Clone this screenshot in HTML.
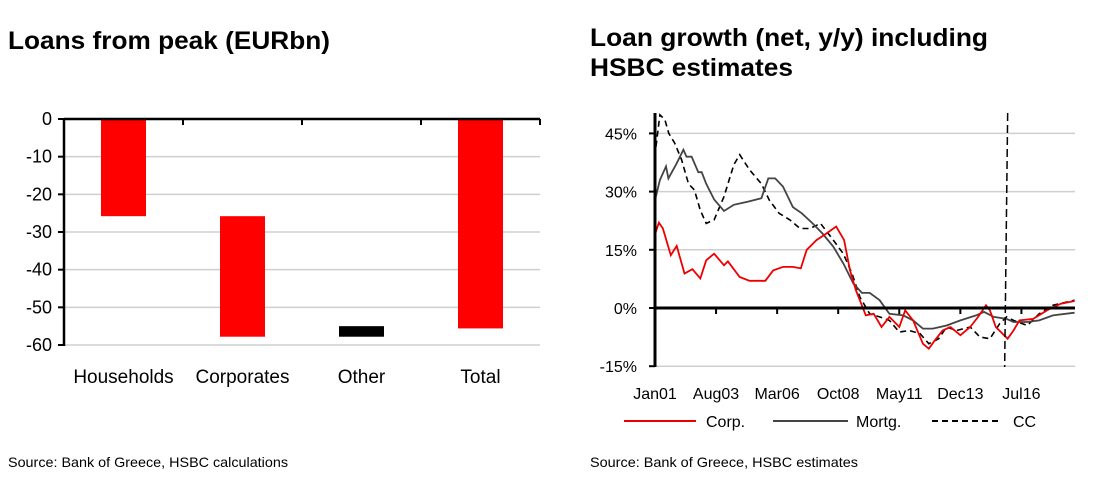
<!DOCTYPE html>
<html><head><meta charset="utf-8"><style>
body{margin:0;background:#fff;font-family:"Liberation Sans",Arial,sans-serif;}
svg text{font-family:"Liberation Sans",Arial,sans-serif;}
</style></head><body>
<svg id="s" width="1102" height="496" xmlns="http://www.w3.org/2000/svg">
<text x="8" y="49" font-size="25" font-weight="bold" textLength="322" lengthAdjust="spacingAndGlyphs">Loans from peak (EURbn)</text>
<text x="590" y="46" font-size="25" font-weight="bold" textLength="398" lengthAdjust="spacingAndGlyphs">Loan growth (net, y/y) including</text>
<text x="590" y="76" font-size="25" font-weight="bold" textLength="203" lengthAdjust="spacingAndGlyphs">HSBC estimates</text>
<text x="8" y="467" font-size="14" textLength="280" lengthAdjust="spacingAndGlyphs">Source: Bank of Greece, HSBC calculations</text>
<text x="590" y="467" font-size="14" textLength="268" lengthAdjust="spacingAndGlyphs">Source: Bank of Greece, HSBC estimates</text>
<g id="left"></g><g id="right"></g>
</svg>
<script>
const barCats=["Households","Corporates","Other","Total"];
const barTop=[0,-25.8,-55,0];
const barBottom=[-25.8,-57.8,-57.8,-55.6];
const barColors=["#ff0000","#ff0000","#000000","#ff0000"];
const leftTicks=[0,-10,-20,-30,-40,-50,-60];

const yTicksR=[45,30,15,0,-15];
const xLabels=["Jan01","Aug03","Mar06","Oct08","May11","Dec13","Jul16"];
const xLabelMonths=[0,31,62,93,124,155,186];
const forecastMonth=178;
const corpM=[0,2,4,8,11,15,19,23,26,30,35,37,43,48,56,60,65,70,74,77,82,87,92,96,99,102,107,111,115,119,124,127,131,136,139,142,146,150,155,160,164,168,170,173,179,182,185,192,199,206,213];
const corpV=[19,22,20.5,13.6,16,8.9,10,7.6,12.3,14,11,12,8,7,7,9.7,10.6,10.6,10.2,15,17.5,19.2,21,17.5,9.7,4.6,-1.9,-1.5,-4.9,-2.3,-4.9,-0.6,-3.2,-9.2,-10.5,-8.4,-5.8,-4.9,-7,-4.9,-2.3,0.7,-0.6,-4.9,-7.9,-5.8,-3.2,-2.8,-0.6,1.1,1.8];
const mortM=[0,2.5,5.6,6.8,11,14.4,16,18.6,22,23.7,26,30,35,40,47,54,57.5,61,65,70,74.5,80,85,90.5,95.6,100.7,105,109,114,119,126,131,136,141,148,155,163,167,172,178.5,182,189,195,202,213];
const mortV=[27.8,33,36.5,33.4,37.3,40.8,39,39,35,35,32,28,25,26.6,27.4,28.3,33.4,33.4,31.3,26,24.4,21.8,19.2,15.8,11.5,6.3,3.9,3.9,2,-1.5,-1.9,-3.2,-5.3,-5.3,-4.5,-3.2,-1.9,-1,-2.3,-2.8,-3.6,-3.6,-3.2,-1.9,-1.2];
const ccM=[0.5,2.5,5,7,10,13.5,17,20,23,26,30,35,40,43,48,54,58,63,68.5,73.6,78.7,84,90.5,95.6,100,104,109,114,119,124,129,134.5,139,144,148,153,160,165,170,175,178.5,182,189,195,202,213];
const ccV=[41.6,49.8,48.5,45,42.5,38.2,32,30.4,25.2,21.8,22.7,28.7,36.9,39.5,35.6,32,27.8,24.4,22.7,20.5,20.5,21.8,17.5,14,8.9,2.8,-1.5,-2.3,-3.2,-6.2,-5.8,-6.6,-9.2,-7.9,-4.9,-5.8,-4.9,-7.5,-7.9,-4,-2.3,-3.2,-4.5,-1.5,0.7,2];

const NS="http://www.w3.org/2000/svg";
function mk(p,t,a){const e=document.createElementNS(NS,t);for(const k in a)e.setAttribute(k,a[k]);p.appendChild(e);return e;}
// Left chart
const L=document.getElementById('left');
const lx0=64,lx1=540;
const ly=v=>119+(-v)*226/60;
const bandW=(lx1-lx0)/barCats.length;
leftTicks.forEach(t=>{
  if(t!==0){const g=mk(L,'line',{x1:lx0,x2:lx1,y1:ly(t),y2:ly(t),stroke:'#cfcfcf','stroke-width':1.5});
  
  }
  const tk=mk(L,'line',{x1:lx0-6,x2:lx0,y1:ly(t),y2:ly(t),stroke:'#000','stroke-width':2});
  
  
  const tx=mk(L,'text',{x:52,y:ly(t)+6,'font-size':18,'text-anchor':'end'});tx.textContent=t;
  
  
});
barCats.forEach((c,i)=>{
  const cx=lx0+bandW*(i+0.5);
  const r=mk(L,'rect',{x:cx-22.5,y:ly(barTop[i]),width:45,height:ly(barBottom[i])-ly(barTop[i]),fill:barColors[i]});
  
  
  const t=mk(L,'text',{x:cx,y:383,'font-size':19,'text-anchor':'middle'});t.textContent=c;
  
  
  const tk=mk(L,'line',{x1:lx0+bandW*(i+1),x2:lx0+bandW*(i+1),y1:119,y2:125,stroke:'#000','stroke-width':2});
  
  
});
let a=mk(L,'line',{x1:lx0,x2:lx1,y1:119,y2:119,stroke:'#000','stroke-width':2.5});


a=mk(L,'line',{x1:lx0,x2:lx0,y1:118,y2:346,stroke:'#000','stroke-width':2.5});



// Right chart
const R=document.getElementById('right');
const rx=m=>655+m*1.97, ry=v=>308-v*58.2/15;
yTicksR.forEach(t=>{
  if(t!==0){const g=mk(R,'line',{x1:655,x2:1075,y1:ry(t),y2:ry(t),stroke:'#cfcfcf','stroke-width':1.5});
  
  }
  const tk=mk(R,'line',{x1:649,x2:655,y1:ry(t),y2:ry(t),stroke:'#000','stroke-width':2});
  
  
  const tx=mk(R,'text',{x:637,y:ry(t)+6,'font-size':16,'text-anchor':'end'});tx.textContent=t+'%';
  
  
});
mk(R,'clipPath',{id:'cp'}).appendChild(document.createElementNS(NS,'rect'));
const cr=R.querySelector('#cp rect');cr.setAttribute('x',655);cr.setAttribute('y',113);cr.setAttribute('width',425);cr.setAttribute('height',260);
function series(M,V,col,w,dash,name){
  const d=M.map((m,i)=>(i?'L':'M')+rx(m).toFixed(1)+','+ry(V[i]).toFixed(1)).join('');
  const p=mk(R,'path',{d:d,fill:'none',stroke:col,'stroke-width':w,'clip-path':'url(#cp)'});
  if(dash)p.setAttribute('stroke-dasharray',dash);
  
  
}
series(ccM,ccV,'#000',1.6,'6,4','cc-line');
series(mortM,mortV,'#444',1.8,null,'mortgage-line');
series(corpM,corpV,'#ee0000',1.8,null,'corporate-line');
a=mk(R,'line',{x1:655,x2:1075,y1:308,y2:308,stroke:'#000','stroke-width':3});


a=mk(R,'line',{x1:655,x2:655,y1:113,y2:367,stroke:'#000','stroke-width':3});


a=mk(R,'line',{x1:rx(forecastMonth)+2,x2:rx(forecastMonth)-1,y1:113,y2:367,stroke:'#000','stroke-width':1.5,'stroke-dasharray':'8,4'});


xLabels.forEach((l,i)=>{
  const x=rx(xLabelMonths[i]);
  const tk=mk(R,'line',{x1:x,x2:x,y1:308,y2:314,stroke:'#000','stroke-width':2});
  
  
  const t=mk(R,'text',{x:x,y:399,'font-size':16,'text-anchor':'middle'});t.textContent=l;
  
  
});
// legend
const leg=[["Corp.",'#ee0000',null,624,696,706],["Mortg.",'#444',null,773,848,856],["CC",'#000','6,4',932,1000,1013]];
leg.forEach(e=>{
  const ln=mk(R,'line',{x1:e[3],x2:e[4],y1:421,y2:421,stroke:e[1],'stroke-width':2});
  if(e[2])ln.setAttribute('stroke-dasharray',e[2]);
  
  
  const t=mk(R,'text',{x:e[5],y:427,'font-size':16});t.textContent=e[0];
  
  
});
</script>
</body></html>
